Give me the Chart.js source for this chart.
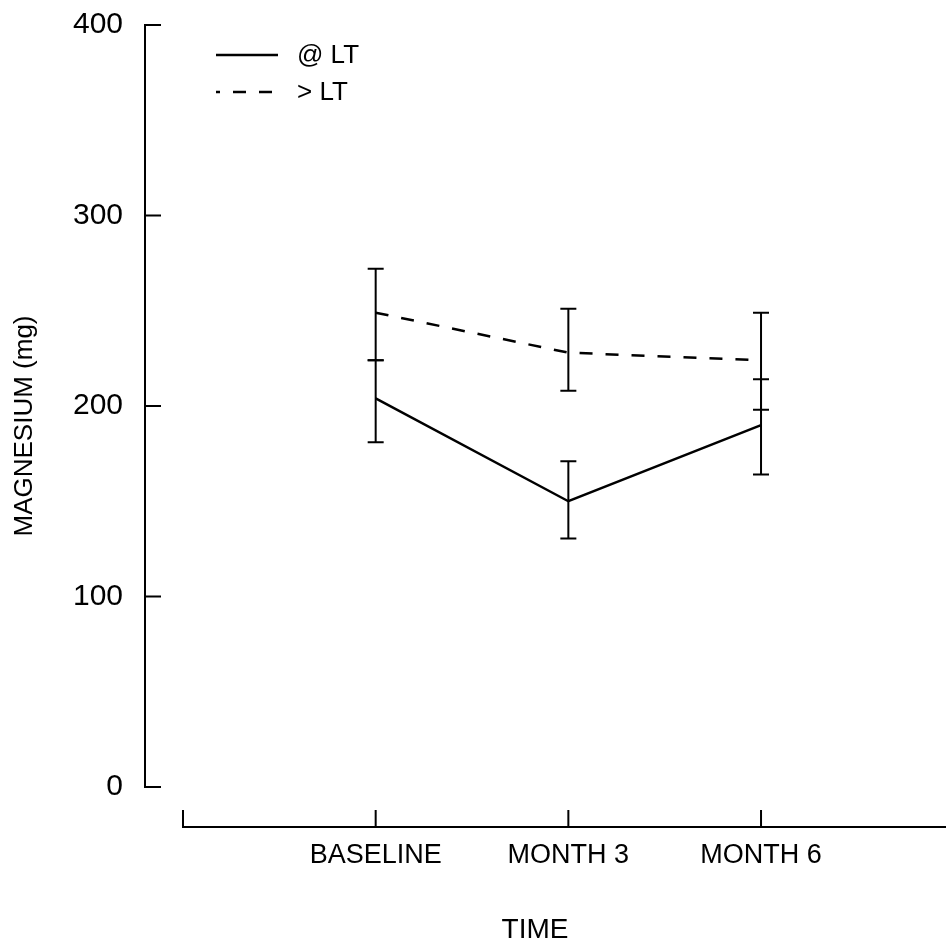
<!DOCTYPE html>
<html><head><meta charset="utf-8">
<script src="https://cdn.jsdelivr.net/npm/chart.js@4.4.1/dist/chart.umd.min.js"></script>
<style>html,body{margin:0;padding:0;background:#fff}#wrap{width:947px;height:949px}</style>
</head><body><div id="wrap"><canvas id="c" width="947" height="949"></canvas></div>
<script>
const categories = ['BASELINE', 'MONTH 3', 'MONTH 6'];
const categoryPositions = [1, 2, 3];
const seriesNames = ['@ LT', '> LT'];
const atLTMean = [204, 150, 190];
const atLTLow = [181, 130.5, 164];
const atLTHigh = [224, 171, 214];
const overLTMean = [249, 228, 224];
const overLTLow = [224, 208, 198];
const overLTHigh = [272, 251, 249];
const yTickValues = [0, 100, 200, 300, 400];
const xAxisEndValue = 3.96;

const FONT = '"Liberation Sans", Arial, sans-serif';
const INK = '#000';

function toPoints(vals) { return vals.map((v, i) => ({x: categoryPositions[i], y: v})); }

const errorBarPlugin = {
  id: 'errorBars',
  afterDatasetsDraw(chart) {
    const {ctx, scales: {x, y}} = chart;
    ctx.save();
    ctx.strokeStyle = INK; ctx.lineWidth = 2; ctx.setLineDash([]);
    chart.data.datasets.forEach(ds => {
      ds.errLow.forEach((lo, j) => {
        const px = x.getPixelForValue(categoryPositions[j]);
        const pLo = y.getPixelForValue(lo), pHi = y.getPixelForValue(ds.errHigh[j]);
        ctx.beginPath();
        ctx.moveTo(px, pLo); ctx.lineTo(px, pHi);
        ctx.moveTo(px - 8, pLo); ctx.lineTo(px + 8, pLo);
        ctx.moveTo(px - 8, pHi); ctx.lineTo(px + 8, pHi);
        ctx.stroke();
      });
    });
    ctx.restore();
  }
};

const axesPlugin = {
  id: 'paperAxes',
  afterDraw(chart) {
    const {ctx, scales: {x, y}} = chart;
    ctx.save();
    ctx.strokeStyle = INK; ctx.lineWidth = 2; ctx.setLineDash([]);
    const ax = x.left;
    ctx.beginPath();
    ctx.moveTo(ax, y.getPixelForValue(yTickValues[0]) + 1);
    ctx.lineTo(ax, y.getPixelForValue(yTickValues[yTickValues.length - 1]) - 1);
    yTickValues.forEach(v => {
      const py = y.getPixelForValue(v);
      ctx.moveTo(ax - 1, py); ctx.lineTo(ax + 16, py);
    });
    ctx.stroke();
    const ay = y.bottom;
    ctx.beginPath();
    ctx.moveTo(x.getPixelForValue(0) - 1, ay);
    ctx.lineTo(x.getPixelForValue(xAxisEndValue), ay);
    [0].concat(categoryPositions).forEach(v => {
      const px = x.getPixelForValue(v);
      ctx.moveTo(px, ay + 1); ctx.lineTo(px, ay - 17);
    });
    ctx.stroke();
    ctx.restore();
  }
};

const legendPlugin = {
  id: 'paperLegend',
  afterDraw(chart) {
    const {ctx} = chart;
    ctx.save();
    ctx.font = '26px ' + FONT;
    ctx.fillStyle = INK; ctx.strokeStyle = INK;
    ctx.textBaseline = 'middle'; ctx.textAlign = 'left';
    const rows = [55, 92];
    chart.data.datasets.forEach((ds, i) => {
      const ry = rows[i];
      ctx.lineWidth = ds.borderWidth;
      ctx.setLineDash(ds.borderDash || []);
      ctx.lineDashOffset = ds.borderDash ? 9 : 0;
      ctx.beginPath(); ctx.moveTo(216, ry); ctx.lineTo(278, ry); ctx.stroke();
      ctx.setLineDash([]);
      ctx.fillText(ds.label, 297, ry + 1);
    });
    ctx.restore();
  }
};

new Chart(document.getElementById('c'), {
  type: 'line',
  data: {
    datasets: [
      {label: seriesNames[0], data: toPoints(atLTMean), errLow: atLTLow, errHigh: atLTHigh,
       borderColor: INK, borderWidth: 2.5, pointRadius: 0, tension: 0, fill: false},
      {label: seriesNames[1], data: toPoints(overLTMean), errLow: overLTLow, errHigh: overLTHigh,
       borderColor: INK, borderWidth: 2.5, borderDash: [13, 13], pointRadius: 0, tension: 0, fill: false}
    ]
  },
  options: {
    responsive: false, animation: false, devicePixelRatio: 1,
    layout: {padding: {top: 25, right: 22, bottom: 0, left: 0}},
    plugins: {legend: {display: false}, tooltip: {enabled: false}},
    scales: {
      x: {
        type: 'linear', position: 'bottom', min: -0.1972, max: 3.851,
        afterBuildTicks: s => { s.ticks = categoryPositions.map(v => ({value: v})); },
        ticks: {
          callback: v => { const k = categoryPositions.indexOf(v); return k >= 0 ? categories[k] : ''; },
          font: {family: FONT, size: 27}, color: INK, padding: 12, maxRotation: 0, autoSkip: false
        },
        grid: {display: false, drawTicks: false}, border: {display: false},
        title: {display: true, text: 'TIME', font: {family: FONT, size: 28}, color: INK, padding: {top: 0, bottom: 2}},
        afterFit: s => { s.height = 122; s.paddingLeft = 0; s.paddingRight = 0; }
      },
      y: {
        type: 'linear', position: 'left', min: -21, max: 400,
        afterBuildTicks: s => { s.ticks = yTickValues.map(v => ({value: v})); },
        ticks: {font: {family: FONT, size: 30}, color: INK, padding: 22},
        grid: {display: false, drawTicks: false}, border: {display: false},
        title: {display: true, text: 'MAGNESIUM (mg)', font: {family: FONT, size: 26}, color: INK, padding: {top: 9, bottom: 0}},
        afterFit: s => { s.width = 145; s.paddingTop = 0; s.paddingBottom = 0; }
      }
    }
  },
  plugins: [errorBarPlugin, axesPlugin, legendPlugin]
});
</script>
</body></html>
